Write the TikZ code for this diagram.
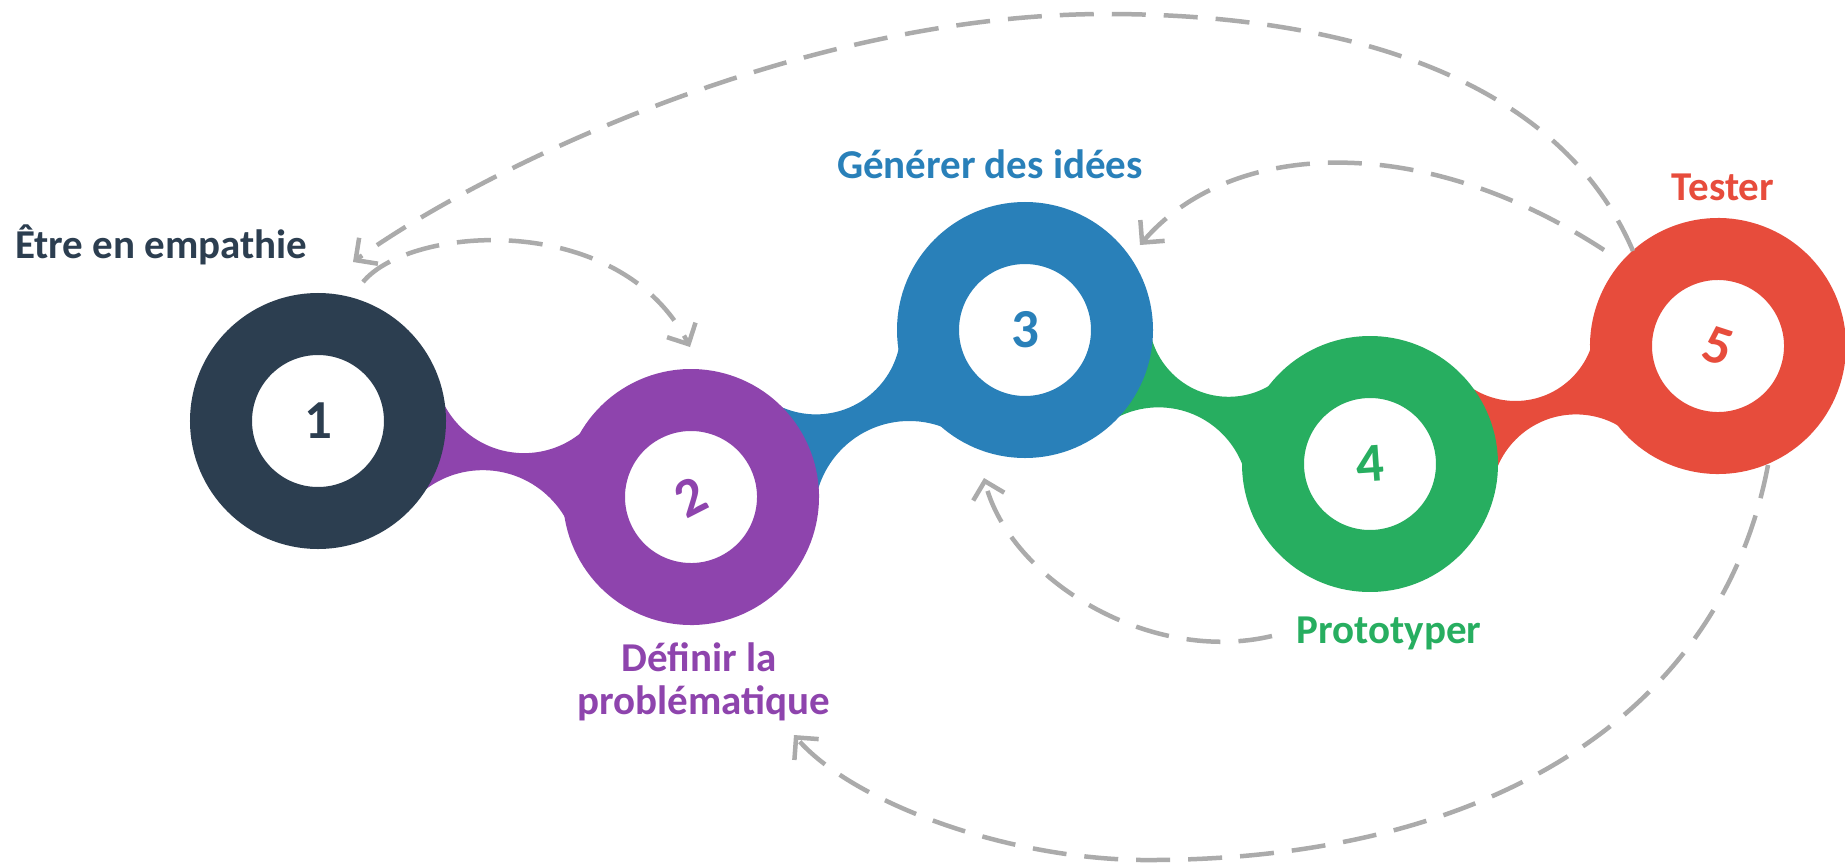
\documentclass[tikz,border=0pt]{standalone}
\usepackage{fontspec}
\setmainfont{Carlito}
\usetikzlibrary{calc,arrows.meta}
\definecolor{cnavy}{HTML}{2C3E50}
\definecolor{cpurple}{HTML}{8E44AD}
\definecolor{cblue}{HTML}{2980B9}
\definecolor{cgreen}{HTML}{27AE60}
\definecolor{cred}{HTML}{E74C3C}
\definecolor{cflow}{HTML}{ABABAB}

% ring radius and how far a notch bites into the rings
\def\ringR{128}
\def\notchov{4}
% centre of a notch circle of radius #6 touching rings at (#2,#3) and (#4,#5); #7 = +1 above, -1 below
\newcommand\notchpt[7]{%
  \pgfmathsetmacro\nDx{(#4-#2)/10}%
  \pgfmathsetmacro\nDy{(#5-#3)/10}%
  \pgfmathsetmacro\nD{veclen(\nDx,\nDy)}%
  \pgfmathsetmacro\nH{sqrt(((\ringR+#6-\notchov)/10)^2-(\nD/2)^2)}%
  \pgfmathsetmacro\nX{(#2+#4)/2+#7*10*\nH*(\nDy)/\nD}%
  \pgfmathsetmacro\nY{(#3+#5)/2-#7*10*\nH*(\nDx)/\nD}%
  \coordinate (#1) at (\nX,\nY);%
}
% waisted bridge between rings #1 and #2, cut by notches #3 (radius #5) and #4 (radius #6)
\newcommand\neckpoly[4]{(#1) -- ($(#1)!\ringR pt!(#3)$) -- ($(#2)!\ringR pt!(#3)$) -- (#2) -- ($(#2)!\ringR pt!(#4)$) -- ($(#1)!\ringR pt!(#4)$) -- cycle}
\newcommand\neck[7]{%
  \begin{scope}
    \clip \neckpoly{#1}{#2}{#3}{#4};
    \fill[#7, even odd rule] (0,0) rectangle (1845,865) (#3) circle[radius=#5pt] (#4) circle[radius=#6pt];
  \end{scope}}

\begin{document}
\begin{tikzpicture}[x=1pt,y=-1pt,
  ring/.style={circle, draw=#1, line width=62pt, fill=white, minimum size=194pt,
    inner sep=0pt, text=#1, font=\fontsize{55}{60}\selectfont\bfseries},
  steplabel/.style={text=#1, font=\fontsize{41}{49}\selectfont\bfseries, inner sep=0pt},
  flow/.style={draw=cflow, line width=4.5pt, dash pattern=on 34pt off 18pt,
    arrows={-Straight Barb[length=16pt,width=32pt]}}]

\fill[white] (0,0) rectangle (1845,865);
\useasboundingbox (0,0) rectangle (1845,865);

% ring centres
\coordinate (p1) at (318,421);
\coordinate (p2) at (691,497);
\coordinate (p3) at (1025,330);
\coordinate (p4) at (1370,464);
\coordinate (p5) at (1718,346);

% notches shaping the bridges
\notchpt{n12t}{318}{421}{691}{497}{90}{1}
\notchpt{n12b}{318}{421}{691}{497}{95}{-1}
\notchpt{n23t}{691}{497}{1025}{330}{85}{1}
\notchpt{n23b}{691}{497}{1025}{330}{95}{-1}
\notchpt{n34t}{1025}{330}{1370}{464}{80}{1}
\notchpt{n34b}{1025}{330}{1370}{464}{90}{-1}
\notchpt{n45t}{1370}{464}{1718}{346}{80}{1}
\notchpt{n45b}{1370}{464}{1718}{346}{85}{-1}

% bridges, each in the colour of the following step
\neck{p1}{p2}{n12t}{n12b}{90}{95}{cpurple}
\neck{p2}{p3}{n23t}{n23b}{85}{95}{cblue}
\neck{p3}{p4}{n34t}{n34b}{80}{90}{cgreen}
\neck{p4}{p5}{n45t}{n45b}{80}{85}{cred}

% step rings
\node[ring=cnavy] (s1) at (p1) {1};
\node[ring=cpurple, rotate=27] (s2) at (p2) {2};
\node[ring=cblue] (s3) at (p3) {3};
\node[ring=cgreen, rotate=4] (s4) at (p4) {4};
\node[ring=cred, rotate=-18] (s5) at (p5) {5};

% step names
\node[steplabel=cnavy, anchor=base west] (l1) at (15,258) {Être en empathie};
\node[steplabel=cpurple, anchor=base] (l2a) at (699,671) {Définir la};
\node[steplabel=cpurple, anchor=base] (l2b) at (704,714) {problématique};
\node[steplabel=cblue, anchor=base] (l3) at (990,178) {Générer des idées};
\node[steplabel=cgreen, anchor=base] (l4) at (1389,643) {Prototyper};
\node[steplabel=cred, anchor=base] (l5) at (1723,200) {Tester};

% iteration loops
\coordinate (f1s) at (1633,251); \coordinate (f1m) at (1106,14); \coordinate (f1e) at (353,262);
\coordinate (f2s) at (363,282);  \coordinate (f2e) at (690,347);
\coordinate (f3s) at (1604,250); \coordinate (f3e) at (1140,245);
\coordinate (f4s) at (1272,636); \coordinate (f4e) at (984,478);
\coordinate (f5s) at (1768,465); \coordinate (f5m) at (1141,860); \coordinate (f5e) at (794,735);

\draw[flow] (f1s) .. controls (1560,80) and (1350,14) .. (f1m)
                  .. controls (800,14) and (480,170) .. (f1e);
\draw[flow] (f2s) .. controls (410,225) and (620,210) .. (f2e);
\draw[flow] (f3s) .. controls (1420,130) and (1230,140) .. (f3e);
\draw[flow] (f4s) .. controls (1150,665) and (1010,580) .. (f4e);
\draw[flow] (f5s) .. controls (1720,720) and (1480,862) .. (f5m)
                  .. controls (1000,858) and (850,800) .. (f5e);
\end{tikzpicture}
\end{document}
